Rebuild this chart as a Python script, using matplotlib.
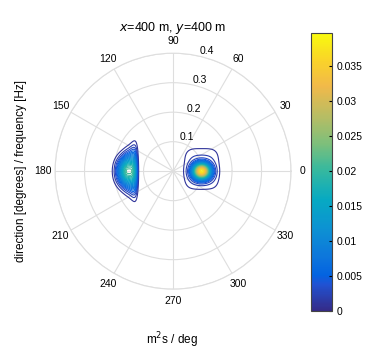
import numpy as np
import matplotlib.pyplot as plt
from matplotlib.colors import LinearSegmentedColormap, Normalize
from matplotlib.cm import ScalarMappable

plt.rcParams['font.family'] = ['Liberation Sans', 'DejaVu Sans']

# spectral peaks (frequency [Hz], direction [deg], density [m^2 s/deg])
peak_freq = [0.154, 0.097]
peak_dir = [180.0, 0.0]
peak_density = [0.0215, 0.036]
# background swell plateau around the second peak
plateau_density = 0.0021
plateau_centre = (0.097, 0.008)
plateau_halfwidth = (0.052, 0.062)

contour_levels = np.arange(0.001, 0.0395, 0.001)
cbar_ticks = [0, 0.005, 0.01, 0.015, 0.02, 0.025, 0.03, 0.035]
cbar_labels = ['0', '0.005', '0.01', '0.015', '0.02', '0.025', '0.03', '0.035']
theta_ticks = np.arange(0, 360, 30)
r_ticks = [0.1, 0.2, 0.3, 0.4]
cmax = 0.0397

# parula-like colormap
parula = LinearSegmentedColormap.from_list('parula', [
    (0.00, (0.208, 0.166, 0.529)),
    (0.095, (0.125, 0.324, 0.830)),
    (0.127, (0.012, 0.388, 0.882)),
    (0.19, (0.050, 0.459, 0.864)),
    (0.30, (0.049, 0.577, 0.823)),
    (0.40, (0.027, 0.664, 0.761)),
    (0.51, (0.218, 0.725, 0.619)),
    (0.60, (0.487, 0.749, 0.484)),
    (0.70, (0.718, 0.741, 0.390)),
    (0.81, (0.945, 0.726, 0.289)),
    (0.90, (0.979, 0.827, 0.163)),
    (1.00, (0.976, 0.983, 0.054)),
])

# polar grid
th = np.radians(np.linspace(0, 360, 721))
fr = np.linspace(0, 0.4, 401)
TH, FR = np.meshgrid(th, fr)
X = FR * np.cos(TH)
Y = FR * np.sin(TH)

# wind sea from 180 deg: arrow shaped peak, wider towards low frequency
xc = peak_freq[0] * np.cos(np.radians(peak_dir[0]))
u = X - xc
xf = np.where(u < 0, np.exp(-0.5 * (u / 0.021) ** 2),
              np.exp(-0.5 * np.abs(u / 0.026) ** 5))
sy = np.clip(0.035 + 0.28 * u + 4 * u ** 2, 0.004, None)
S = peak_density[0] * xf * np.exp(-0.5 * (Y / sy) ** 2)

# sharp peak near 0 deg plus broad plateau
xc2 = peak_freq[1] * np.cos(np.radians(peak_dir[1]))
S += peak_density[1] * np.exp(-0.5 * (((X - xc2) / 0.019) ** 2 + (Y / 0.017) ** 2))
S += plateau_density * np.exp(-0.5 * (np.abs((X - plateau_centre[0]) / plateau_halfwidth[0]) ** 4
                                      + np.abs((Y - plateau_centre[1]) / plateau_halfwidth[1]) ** 4))

fig = plt.figure(figsize=(3.67, 3.57), dpi=100)
ax = fig.add_axes([0.150, 0.190, 0.643, 0.661], projection='polar')
norm = Normalize(vmin=0, vmax=cmax)
ax.contour(TH, FR, S, levels=contour_levels, cmap=parula, norm=norm, linewidths=0.8)

ax.set_ylim(0, 0.4)
ax.set_thetagrids(theta_ticks, [str(t) for t in theta_ticks], fontsize=7.5)
ax.set_rgrids(r_ticks, [str(r) for r in r_ticks], angle=77, fontsize=7.5)
ax.grid(color='#dedede', linewidth=0.8)
ax.spines['polar'].set_color('#dedede')
ax.tick_params(axis='x', pad=-2)
ax.set_title('$x$=400 m, $y$=400 m', fontsize=9, pad=2)

fig.text(0.057, 0.522, 'direction [degrees] / frequency [Hz]', rotation=90,
         ha='center', va='center', fontsize=8.5)
fig.text(0.470, 0.048, 'm$^2$s / deg', ha='center', va='center', fontsize=8.5)

cax = fig.add_axes([0.847, 0.129, 0.057, 0.779])
sm = ScalarMappable(norm=norm, cmap=parula)
cb = fig.colorbar(sm, cax=cax, ticks=cbar_ticks)
cb.ax.set_yticklabels(cbar_labels)
cb.ax.tick_params(labelsize=7.5, length=2, direction='in', width=0.8)
cb.outline.set_edgecolor('#444444')
cb.outline.set_linewidth(0.8)

fig.savefig('out.png', dpi=100)
